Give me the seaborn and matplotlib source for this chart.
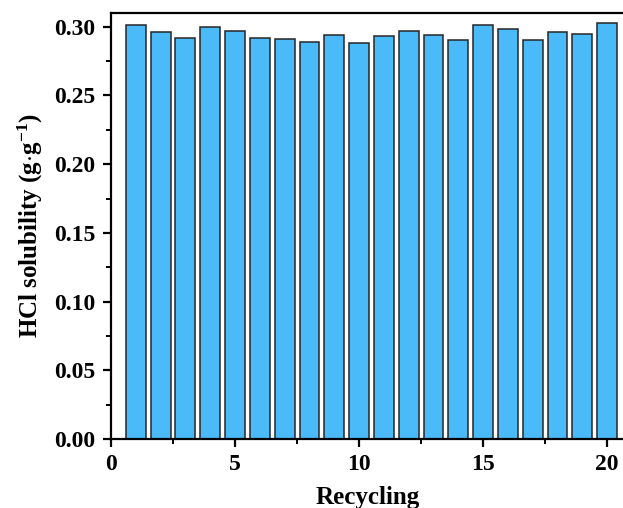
import matplotlib
matplotlib.use("Agg")
import matplotlib.pyplot as plt
from matplotlib.ticker import MultipleLocator
import seaborn as sns
import pandas as pd

# HCl solubility measured over 20 absorption/desorption cycles
cycles = list(range(1, 21))
solubility = [0.301, 0.296, 0.292, 0.300, 0.297, 0.292, 0.291, 0.289, 0.294, 0.288,
              0.293, 0.297, 0.294, 0.290, 0.301, 0.298, 0.290, 0.296, 0.295, 0.303]
x_ticks = [0, 5, 10, 15, 20]
y_ticks = [0.00, 0.05, 0.10, 0.15, 0.20, 0.25, 0.30]

sns.set_theme(style="ticks")
plt.rcParams["font.family"] = ["Liberation Serif", "DejaVu Serif"]
plt.rcParams["font.weight"] = "bold"
plt.rcParams["text.color"] = "black"
plt.rcParams["axes.labelcolor"] = "black"
plt.rcParams["mathtext.fontset"] = "custom"
plt.rcParams["mathtext.rm"] = "Liberation Serif:bold"
plt.rcParams["mathtext.it"] = "Liberation Serif:bold"
plt.rcParams["mathtext.bf"] = "Liberation Serif:bold"
plt.rcParams["mathtext.default"] = "rm"

df = pd.DataFrame({"Recycling": cycles, "Solubility": solubility})

fig = plt.figure(figsize=(6.23, 5.08), dpi=100)
W, H = 623, 508
left, right, top, bottom = 111, 624.5, 13, 439
ax = fig.add_axes([left / W, (H - bottom) / H, (right - left) / W, (bottom - top) / H])

sns.barplot(data=df, x="Recycling", y="Solubility", native_scale=True, width=0.8,
            color="#4BBAF9", saturation=1, edgecolor="#262626", linewidth=1.1, ax=ax)

ax.set_xlim(0, 20.7)
ax.set_ylim(0, 0.31)
ax.set_xticks(x_ticks)
ax.set_yticks(y_ticks)
ax.set_xticklabels([str(t) for t in x_ticks])
ax.set_yticklabels([f"{t:.2f}" for t in y_ticks])
ax.xaxis.set_minor_locator(MultipleLocator(2.5))
ax.yaxis.set_minor_locator(MultipleLocator(0.025))

for s in ax.spines.values():
    s.set_linewidth(1.6)
    s.set_color("black")
ax.tick_params(which="major", direction="out", length=6, width=1.6, labelsize=17,
               colors="black", labelcolor="black")
ax.tick_params(axis="x", which="major", pad=5)
ax.tick_params(axis="y", which="major", pad=5)
ax.tick_params(which="minor", direction="out", length=3.5, width=1.4, colors="black")
for lab in ax.get_xticklabels() + ax.get_yticklabels():
    lab.set_fontweight("bold")

ax.set_xlabel("Recycling", fontsize=18, fontweight="bold", labelpad=8, color="black")
ax.set_ylabel(r"HCl solubility (g$\cdot$g$^{-1}$)", fontsize=18, fontweight="bold",
              labelpad=7, color="black")

fig.savefig("out.png", dpi=100)
